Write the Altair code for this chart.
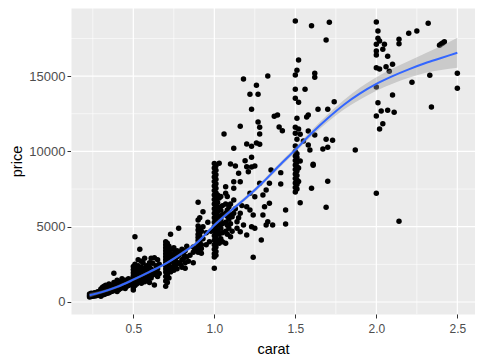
import altair as alt
import pandas as pd

# ---- scatter points (carat, price) ----
pts_small = [(0.23,330),(0.23,400),(0.23,470),(0.23,540),(0.24,360),(0.24,430),(0.24,500),(0.24,580),
             (0.25,380),(0.25,460),(0.25,540),(0.26,400),(0.26,480),(0.26,620),(0.27,420),(0.27,560),
             (0.28,440),(0.28,520),(0.28,680),(0.29,460),(0.29,600),(0.3,380),(0.3,450),(0.3,520),
             (0.3,590),(0.3,660),(0.3,730),(0.3,800),(0.3,870),(0.31,480),(0.31,560),(0.31,640),
             (0.31,720),(0.31,850),(0.31,980),(0.32,500),(0.32,620),(0.32,760),(0.32,900),(0.32,1050),
             (0.33,540),(0.33,700),(0.33,860),(0.33,1120),(0.34,580),(0.34,740),(0.34,950),
             (0.35,620),(0.35,800),(0.35,1000),(0.35,1200)]
pts_04 = [(0.36,680),(0.36,900),(0.36,1100),(0.37,720),(0.37,950),(0.38,760),(0.38,1000),(0.38,1300),
          (0.38,1910),(0.39,800),(0.39,1060),(0.4,700),(0.4,850),(0.4,1000),(0.4,1150),(0.4,1300),
          (0.4,1450),(0.41,820),(0.41,1100),(0.41,1350),(0.42,900),(0.42,1180),(0.43,950),(0.43,1250),
          (0.43,1550),(0.44,1000),(0.44,1300),(0.45,900),(0.45,1150),(0.45,1450),(0.46,1050),
          (0.46,1350),(0.47,1100),(0.47,1550),(0.48,1200),(0.49,1150)]
pts_05 = [(0.5,950),(0.5,1150),(0.5,1350),(0.5,1550),(0.5,1750),(0.5,1950),(0.5,2150),(0.5,2350),
          (0.5,1250),(0.5,1650),(0.5,800),(0.51,1100),(0.51,1400),(0.51,1700),(0.51,2000),(0.51,2500),
          (0.51,4340),(0.52,1200),(0.52,1500),(0.52,1800),(0.52,2200),(0.53,1300),(0.53,1600),
          (0.53,1900),(0.53,2400),(0.53,2800),(0.54,3500),(0.54,1400),(0.54,1700),(0.54,2100),
          (0.55,1250),(0.55,1550),(0.55,1850),(0.55,2300),(0.55,2700),(0.56,1500),(0.56,1800),
          (0.56,2000),(0.56,2600),(0.57,1350),(0.57,1700),(0.57,2200),(0.57,2900),(0.58,1600),
          (0.58,1900),(0.58,2400),(0.59,1450),(0.59,1800),(0.59,2100),(0.6,1700),(0.6,2000),
          (0.6,2300),(0.6,2600),(0.6,1300),(0.61,1600),(0.61,2200),(0.61,2900),(0.62,1800),
          (0.62,2100),(0.62,2570),(0.63,1130),(0.63,1900),(0.63,2940),(0.64,2000),(0.64,2400),
          (0.65,1700),(0.65,2200),(0.65,2800),(0.66,1900),(0.66,2500)]
pts_07 = [(0.7,1050),(0.7,1400),(0.7,1700),(0.7,2000),(0.7,2200),(0.7,2400),(0.7,2600),(0.7,2800),
          (0.7,3000),(0.7,3200),(0.7,3400),(0.7,3600),(0.7,3800),(0.7,4000),(0.71,1300),(0.71,1800),
          (0.71,2300),(0.71,2700),(0.71,3100),(0.71,3500),(0.71,3900),(0.72,1600),(0.72,2100),
          (0.72,2500),(0.72,2900),(0.72,3300),(0.72,3700),(0.73,4500),(0.73,2000),(0.73,2700),
          (0.73,3200),(0.74,2300),(0.74,2900),(0.74,3500),(0.75,2100),(0.75,2600),(0.75,3100),
          (0.75,3600),(0.76,2400),(0.76,2800),(0.76,3300),(0.77,2200),(0.77,3000),(0.77,3400),
          (0.78,4890),(0.78,2600),(0.78,3100),(0.79,2500),(0.79,3300),(0.8,2300),(0.8,2800),
          (0.8,3500),(0.81,2900),(0.81,3200),(0.82,2240),(0.82,2600),(0.82,3400),(0.83,3000),
          (0.83,3700),(0.84,2700),(0.85,3100),(0.87,2600),(0.87,3300),(0.87,3650),(0.88,3500)]
pts_09 = [(0.9,6620),(0.9,5445),(0.9,4780),(0.9,4500),(0.9,4300),(0.9,4100),(0.9,3900),(0.9,3700),
          (0.9,3500),(0.9,3300),(0.9,5050),(0.91,5600),(0.91,4900),(0.91,4600),(0.91,4400),
          (0.91,4200),(0.91,4000),(0.91,3800),(0.91,3600),(0.91,3400),(0.92,4700),(0.92,4200),
          (0.92,3800),(0.92,3240),(0.92,3550),(0.93,4200),(0.93,5000),(0.93,6000),(0.95,4600),
          (0.95,3800),(0.96,5300),(0.97,4000),(0.98,4700)]
pts_10 = [(1.0,9200),(1.0,8900),(1.0,8600),(1.0,8300),(1.0,8000),(1.0,7700),(1.0,7400),(1.0,7100),
          (1.0,6800),(1.0,6500),(1.0,6200),(1.0,5900),(1.0,5600),(1.0,5300),(1.0,5000),(1.0,4700),
          (1.0,4400),(1.0,4100),(1.0,3800),(1.0,3500),(1.0,3200),(1.0,2990),(1.0,2240),
          (1.01,9050),(1.01,8750),(1.01,8450),(1.01,8150),(1.01,7850),(1.01,7550),(1.01,7250),
          (1.01,6950),(1.01,6650),(1.01,6350),(1.01,6050),(1.01,5750),(1.01,5450),(1.01,5150),
          (1.01,4850),(1.01,4550),(1.01,4250),(1.01,3950),(1.01,3650),(1.01,3350),(1.01,3100)]
pts_11 = [(1.02,4100),(1.02,4700),(1.02,5300),(1.02,6000),(1.02,6600),(1.02,7100),(1.03,3900),
          (1.03,4500),(1.03,5100),(1.03,5700),(1.03,6300),(1.03,6900),(1.03,9210),(1.04,4200),
          (1.04,4900),(1.04,5500),(1.04,6100),(1.04,7000),(1.05,4000),(1.05,4600),(1.05,5200),
          (1.05,5800),(1.05,6400),(1.06,11150),(1.07,3900),(1.07,4700),(1.07,5300),(1.07,5900),
          (1.07,6500),(1.07,7220),(1.07,7660),(1.08,4500),(1.08,5100),(1.08,5700),(1.08,6110),
          (1.08,7000),(1.09,4900),(1.09,5500),(1.09,6300),(1.1,4340),(1.1,5200),(1.1,5800),
          (1.1,6500),(1.1,9160),(1.11,5660),(1.11,4700),(1.12,6770),(1.12,7550),(1.12,7990),
          (1.12,10210),(1.12,5900),(1.13,9030),(1.13,6200),(1.14,5330),(1.14,4900),(1.15,8550),
          (1.15,5600),(1.16,4670),(1.16,5890),(1.16,7990),(1.16,11670),(1.17,6400),(1.18,5110),
          (1.18,14810),(1.19,9380),(1.2,4450),(1.2,6330),(1.2,8980),(1.2,10490),(1.21,8650),
          (1.22,6110),(1.22,7220),(1.22,13790),(1.23,5000),(1.23,8960),(1.23,9610),(1.23,10340),
          (1.23,12800),(1.24,2970),(1.24,5780),(1.25,4890),(1.25,6990),(1.25,9030),(1.26,10560),
          (1.26,14390),(1.27,11950),(1.27,13790),(1.28,7880),(1.28,10470),(1.28,11150),(1.28,11600),
          (1.29,4120),(1.3,5780),(1.3,7100),(1.31,6330),(1.32,5110),(1.32,7440),(1.33,5330),
          (1.33,15010),(1.34,6550),(1.34,7880),(1.35,8770),(1.36,5110),(1.37,12330),(1.39,12420),
          (1.4,11620),(1.41,7840),(1.41,8590),(1.42,11370),(1.44,5180),(1.44,6110)]
pts_15 = [(1.5,7300),(1.5,7600),(1.5,7900),(1.5,8200),(1.5,8500),(1.5,8800),(1.5,9100),(1.5,9400),
          (1.5,9700),(1.5,10000),(1.5,10360),(1.5,11200),(1.5,11600),(1.5,13530),(1.5,14120),
          (1.5,15070),(1.5,18660),(1.51,7500),(1.51,7800),(1.51,8100),(1.51,8400),(1.51,8700),
          (1.51,9000),(1.51,9300),(1.51,9600),(1.51,9850),(1.51,10800),(1.51,12200),(1.51,15390),
          (1.52,8000),(1.52,8900),(1.52,11490),(1.52,13260),(1.52,16070),(1.53,6590),(1.53,9360),
          (1.53,11140),(1.55,10690),(1.56,14120),(1.57,12280),(1.58,10430),(1.58,11350),(1.58,12420),
          (1.59,10090),(1.6,7550),(1.6,18350),(1.61,9080),(1.61,9140),(1.62,11090),(1.62,14920),
          (1.62,15190),(1.64,12800),(1.67,10160),(1.69,6290),(1.69,10800),(1.69,17400),(1.7,8020),
          (1.7,10270),(1.7,12800),(1.71,18570),(1.73,10740),(1.74,13300),(1.87,10090)]
pts_20 = [(2.0,18590),(2.01,17990),(2.01,17510),(2.02,17330),(2.0,17110),(2.05,17110),(2.04,16780),
          (2.0,16670),(2.0,16400),(2.07,16320),(2.14,17440),(2.14,17150),(2.2,17840),(2.25,17990),
          (2.32,18510),(2.39,17050),(2.4,17130),(2.41,17200),(2.42,17280),(2.0,15560),(2.02,15470),
          (2.06,15620),(2.1,15780),(2.08,15320),(2.33,15050),(2.5,15190),(2.5,14190),(2.22,14590),
          (2.0,14280),(2.1,13750),(2.01,13230),(2.34,12950),(2.03,12680),(2.07,12730),(2.11,12600),
          (2.0,12350),(2.04,11840),(2.02,11490),(2.0,7220),(2.14,5360)]

groups = [pts_small, pts_04, pts_05, pts_07, pts_09, pts_10, pts_11, pts_15, pts_20]
df = pd.DataFrame([{"carat": c, "price": p} for g in groups for c, p in g])

# ---- loess smooth with confidence band ----
smooth_carat = [0.23, 0.3, 0.4, 0.5, 0.6, 0.7, 0.8, 0.9, 1.0, 1.1, 1.2, 1.3, 1.4, 1.5, 1.6,
                1.7, 1.8, 1.9, 2.0, 2.1, 2.2, 2.3, 2.4, 2.5]
smooth_fit = [450, 640, 1000, 1480, 2000, 2550, 3230, 4000, 5100, 6050, 6950, 7950, 9050, 10100,
              11200, 12200, 13100, 13850, 14480, 15000, 15450, 15850, 16200, 16550]
smooth_lo = [300, 540, 910, 1390, 1910, 2460, 3130, 3890, 4990, 5930, 6820, 7810, 8900, 9930,
             11000, 11950, 12780, 13450, 14030, 14500, 14890, 15200, 15400, 15550]
smooth_hi = [600, 740, 1090, 1570, 2090, 2640, 3330, 4110, 5210, 6170, 7080, 8090, 9200, 10270,
             11400, 12450, 13420, 14250, 14930, 15500, 16010, 16500, 17000, 17550]
sm = pd.DataFrame({"carat": smooth_carat, "fit": smooth_fit, "lo": smooth_lo, "hi": smooth_hi})

# ---- grid / ticks ----
x_major = [0.5, 1.0, 1.5, 2.0, 2.5]
x_minor = [0.25, 0.75, 1.25, 1.75, 2.25]
y_major = [0, 5000, 10000, 15000]
y_minor = [2500, 7500, 12500, 17500]

FONT = "Liberation Sans"
xs = alt.Scale(domain=[0.1154, 2.609], nice=False, zero=False)
ys = alt.Scale(domain=[-797, 19522], nice=False, zero=False)

x_axis = alt.Axis(values=x_major, format=".1f", grid=False, domain=False, tickColor="#333333",
                  tickSize=4, tickWidth=1, labelColor="#4D4D4D", labelFont=FONT, labelFontSize=12,
                  labelPadding=5, title="carat", titleFont=FONT, titleFontSize=14.5,
                  titleFontWeight="normal", titleColor="#000000", titleX=202, titleY=39,
                  titleBaseline="alphabetic")
y_axis = alt.Axis(values=y_major, format="d", grid=False, domain=False, tickColor="#333333",
                  tickSize=4, tickWidth=1, labelColor="#4D4D4D", labelFont=FONT, labelFontSize=13,
                  labelPadding=2, title="price", titleFont=FONT, titleFontSize=14.5,
                  titleFontWeight="normal", titleColor="#000000", titleX=-54, titleY=153,
                  titleAngle=270, titleBaseline="middle")

X = alt.X("carat:Q", scale=xs, axis=x_axis)
Y = alt.Y("price:Q", scale=ys, axis=y_axis)

xminor = alt.Chart(pd.DataFrame({"carat": x_minor})).mark_rule(color="white", strokeWidth=0.6).encode(x=X)
yminor = alt.Chart(pd.DataFrame({"price": y_minor})).mark_rule(color="white", strokeWidth=0.6).encode(y=Y)
xmajor = alt.Chart(pd.DataFrame({"carat": x_major})).mark_rule(color="white", strokeWidth=1.2).encode(x=X)
ymajor = alt.Chart(pd.DataFrame({"price": y_major})).mark_rule(color="white", strokeWidth=1.2).encode(y=Y)

points = alt.Chart(df).mark_circle(color="#000000", size=30, opacity=1).encode(x=X, y=Y)

band = alt.Chart(sm).mark_area(color="#999999", opacity=0.4, interpolate="monotone").encode(
    x=X, y=alt.Y("lo:Q", scale=ys, axis=y_axis), y2="hi:Q")
line = alt.Chart(sm).mark_line(color="#3366FF", strokeWidth=2, interpolate="monotone").encode(
    x=X, y=alt.Y("fit:Q", scale=ys, axis=y_axis))

chart = alt.layer(yminor, xminor, ymajor, xmajor, points, band, line).properties(
    width=404, height=306,
    autosize=alt.AutoSizeParams(type="none"),
    padding={"left": 63, "top": 0, "right": 0, "bottom": 45},
).configure_view(fill="#EBEBEB", stroke="transparent")

chart.save("out.html", embed_options={"renderer": "svg", "actions": False})
